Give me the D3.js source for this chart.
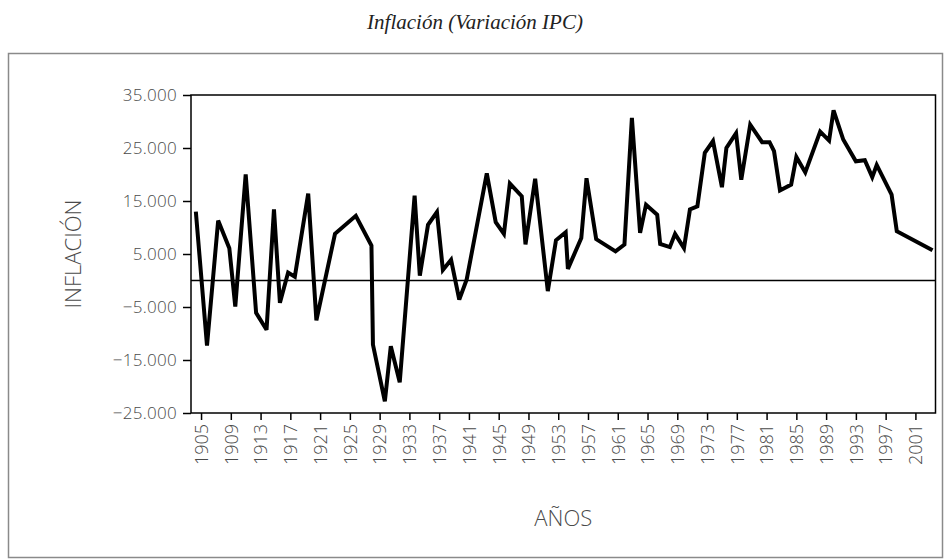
<!DOCTYPE html>
<html lang="es">
<head>
  <meta charset="utf-8">
  <title>Inflación (Variación IPC)</title>
  <script src="https://cdn.jsdelivr.net/npm/d3@7"></script>
  <style>
    body { margin: 0; background: #fff; overflow: hidden; }
    .tick text { font-family: 'Open Sans', sans-serif; font-weight: 300; fill: #4a4a4a; }
    .tick line { stroke: #000; stroke-width: 1.5px; }
    .axis-title { font-family: 'Open Sans', sans-serif; font-weight: 300; fill: #4a4a4a; font-size: 22px; }
    .title { font-family: 'Liberation Serif', serif; font-style: italic; font-size: 21px; fill: #222; }
  </style>
</head>
<body>
  <div id="chart"></div>
  <script>
    // años (decimales) y variación IPC
    const years = [1904.3, 1905.8, 1907.3, 1908.8, 1909.6, 1911.0, 1912.4, 1913.8, 1914.8, 1915.6,
      1916.7, 1917.6, 1919.4, 1920.5, 1923.0, 1925.8, 1927.9, 1928.1, 1929.7, 1930.5,
      1931.7, 1933.7, 1934.4, 1935.5, 1936.7, 1937.5, 1938.6, 1939.7, 1940.7, 1943.4,
      1944.6, 1945.7, 1946.5, 1948.1, 1948.6, 1949.9, 1951.6, 1952.7, 1954.0, 1954.3,
      1956.1, 1956.8, 1958.1, 1960.7, 1961.9, 1962.9, 1964.0, 1964.8, 1966.3, 1966.7,
      1968.0, 1968.7, 1969.9, 1970.7, 1971.7, 1972.7, 1973.8, 1975.0, 1975.6, 1976.9,
      1977.6, 1978.8, 1980.4, 1981.4, 1982.0, 1982.8, 1984.3, 1985.0, 1986.2, 1988.2,
      1989.4, 1990.0, 1991.3, 1993.0, 1994.2, 1995.2, 1995.8, 1997.8, 1998.5, 2003.3];
    const inflation = [13.0, -12.3, 11.3, 6.1, -4.9, 20.0, -6.1, -9.3, 13.4, -4.2,
      1.5, 0.7, 16.4, -7.5, 8.8, 12.2, 6.6, -12.1, -22.8, -12.4,
      -19.2, 16.0, 0.9, 10.5, 12.9, 2.0, 3.9, -3.6, 0.2, 20.2,
      11.0, 8.8, 18.3, 15.9, 6.8, 19.2, -2.0, 7.6, 9.1, 2.2,
      8.0, 19.3, 7.8, 5.5, 6.8, 30.7, 9.0, 14.3, 12.4, 6.9,
      6.3, 8.8, 6.1, 13.4, 14.0, 24.1, 26.3, 17.6, 25.0, 27.8,
      19.0, 29.4, 26.1, 26.1, 24.4, 17.0, 18.1, 23.3, 20.4, 28.1,
      26.4, 32.1, 26.6, 22.5, 22.7, 19.5, 21.8, 16.2, 9.3, 5.7];
    const yTicks = [-25, -15, -5, 5, 15, 25, 35];
    const xTicks = d3.range(1905, 2002, 4);

    const width = 950, height = 559;
    const plot = { left: 191, top: 95, right: 935.5, bottom: 413 };

    const data = years.map((yr, i) => ({ year: yr, value: inflation[i] }));

    const svg = d3.select("#chart").append("svg")
      .attr("width", width)
      .attr("height", height);

    // título
    svg.append("text").attr("class", "title")
      .attr("x", 475).attr("y", 29)
      .attr("text-anchor", "middle")
      .text("Inflación (Variación IPC)");

    // marco exterior
    svg.append("rect")
      .attr("x", 8.5).attr("y", 53.5)
      .attr("width", 934).attr("height", 504)
      .attr("fill", "none").attr("stroke", "#8a8a8a").attr("stroke-width", 1.5);

    const x = d3.scaleLinear().domain([1903.65, 2003.7]).range([plot.left, plot.right]);
    const y = d3.scaleLinear().domain([-25, 35]).range([plot.bottom, plot.top]);

    // eje Y
    const yAxis = svg.append("g")
      .attr("transform", `translate(${plot.left},0)`)
      .call(d3.axisLeft(y).tickValues(yTicks).tickSize(8).tickPadding(6).tickFormat(d3.format(".3f")));
    yAxis.select(".domain").remove();
    yAxis.selectAll(".tick text").style("font-size", "17px").attr("letter-spacing", "0.3px");

    // eje X
    const xAxis = svg.append("g")
      .attr("transform", `translate(0,${plot.bottom})`)
      .call(d3.axisBottom(x).tickValues(xTicks).tickSize(7).tickFormat(d3.format("d")));
    xAxis.select(".domain").remove();
    xAxis.selectAll(".tick text")
      .style("font-size", "18px")
      .attr("transform", "rotate(-90)")
      .attr("x", -11).attr("y", 0).attr("dy", "0.35em")
      .style("text-anchor", "end");

    // área del gráfico
    svg.append("rect")
      .attr("x", plot.left).attr("y", plot.top)
      .attr("width", plot.right - plot.left).attr("height", plot.bottom - plot.top)
      .attr("fill", "none").attr("stroke", "#000").attr("stroke-width", 1.5);

    // línea de cero
    svg.append("line")
      .attr("x1", plot.left).attr("x2", plot.right)
      .attr("y1", y(0)).attr("y2", y(0))
      .attr("stroke", "#000").attr("stroke-width", 1.3);

    // serie
    const line = d3.line().x(d => x(d.year)).y(d => y(d.value));
    svg.append("path")
      .datum(data)
      .attr("d", line)
      .attr("fill", "none")
      .attr("stroke", "#000")
      .attr("stroke-width", 4)
      .attr("stroke-linejoin", "miter")
      .attr("stroke-miterlimit", 3);

    // títulos de ejes
    svg.append("text").attr("class", "axis-title")
      .attr("transform", `translate(81,${(plot.top + plot.bottom) / 2}) rotate(-90)`)
      .attr("text-anchor", "middle")
      .text("INFLACIÓN");

    svg.append("text").attr("class", "axis-title")
      .attr("x", (plot.left + plot.right) / 2).attr("y", 526)
      .attr("text-anchor", "middle")
      .text("AÑOS");
  </script>
</body>
</html>
